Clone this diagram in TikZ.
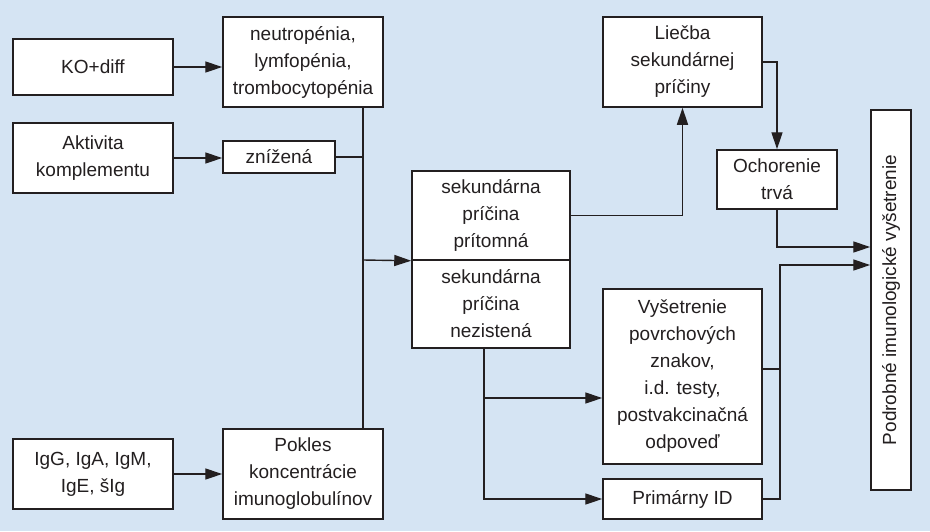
\documentclass[tikz,border=0pt]{standalone}
\usepackage{fontspec}
\setmainfont{Liberation Sans}
\usepackage{tikz}
\usetikzlibrary{arrows.meta,calc}
\definecolor{bgblue}{RGB}{213,228,243}
\definecolor{inkgray}{RGB}{35,31,32}

\begin{document}
\begin{tikzpicture}[x=1pt,y=-1pt,
            every node/.style={draw=inkgray,fill=white,line width=1.5pt,align=center,text=inkgray,inner sep=0pt,font=\fontsize{19}{27}\selectfont},
            ln/.style={draw=inkgray,line width=1.4pt},
            arr/.style={ln,-{Triangle[length=17pt,width=11pt]}}]

            % Background
            \fill[bgblue] (0,0) rectangle (930,531);

            % Left column
            \node[minimum width=160,minimum height=56] (ko) at (93,67) {KO+diff};
            \node[minimum width=160,minimum height=70] (akt) at (93,158) {Aktivita\\komplementu};
            \node[minimum width=160,minimum height=70] (igg) at (93,474) {IgG, IgA, IgM,\\IgE, šIg};

            % Findings
            \node[minimum width=160,minimum height=90] (neutro) at (303,62) {neutropénia,\\lymfopénia,\\trombocytopénia};
            \node[minimum width=112,minimum height=32] (zniz) at (279,157) {znížená};
            \node[minimum width=160,minimum height=90] (pokles) at (303,474) {Pokles\\koncentrácie\\imunoglobulínov};

            % Secondary cause, split box
            \node[minimum width=158,minimum height=89] (sek) at (491,215.5) {sekundárna\\príčina\\prítomná};
            \node[minimum width=158,minimum height=88] (nez) at (491,304) {sekundárna\\príčina\\nezistená};

            % Right part
            \node[minimum width=159,minimum height=90] (liecba) at (682.5,62) {Liečba\\sekundárnej\\príčiny};
            \node[minimum width=120,minimum height=59] (ochor) at (777,179.5) {Ochorenie\\trvá};
            \node[minimum width=159,minimum height=175] (vys) at (682.5,376.5) {Vyšetrenie\\povrchových\\znakov,\\i.d. testy,\\postvakcinačná\\odpoveď};
            \node[minimum width=159,minimum height=40] (prim) at (682.5,499) {Primárny ID};
            \node[minimum width=40,minimum height=380] (podr) at (891,300) {\rotatebox{90}{Podrobné imunologické vyšetrenie}};

            % Junction points
            \coordinate (jn) at (363,260);
            \coordinate (jb) at (484,398);
            \coordinate (jo) at (777,247);
            \coordinate (jr) at (780,265);
            \coordinate (jv) at (780,369);

            \draw[arr] (ko.east) -- (ko.east -| neutro.west);
            \draw[arr] (akt.east) -- (akt.east -| zniz.west);
            \draw[arr] (igg.east) -- (pokles.west);

            \draw[ln] (neutro.south -| jn) -- (pokles.north -| jn);
            \draw[ln] (zniz.east) -- (zniz.east -| jn);
            \draw[arr] (jn) -- (sek.south west);

            \draw[arr] (sek.east) -| (liecba.south);
            \draw[arr] (liecba.east) -| (ochor.north);
            \draw[arr] (ochor.south) -- (jo) -- (jo -| podr.west);

            \draw[arr] (nez.south -| jb) |- (prim.west);
            \draw[arr] (jb) -- (jb -| vys.west);

            \draw[ln] (jv -| vys.east) -- (jv);
            \draw[arr] (prim.east) -| (jr) -- (jr -| podr.west);

\end{tikzpicture}
\end{document}
